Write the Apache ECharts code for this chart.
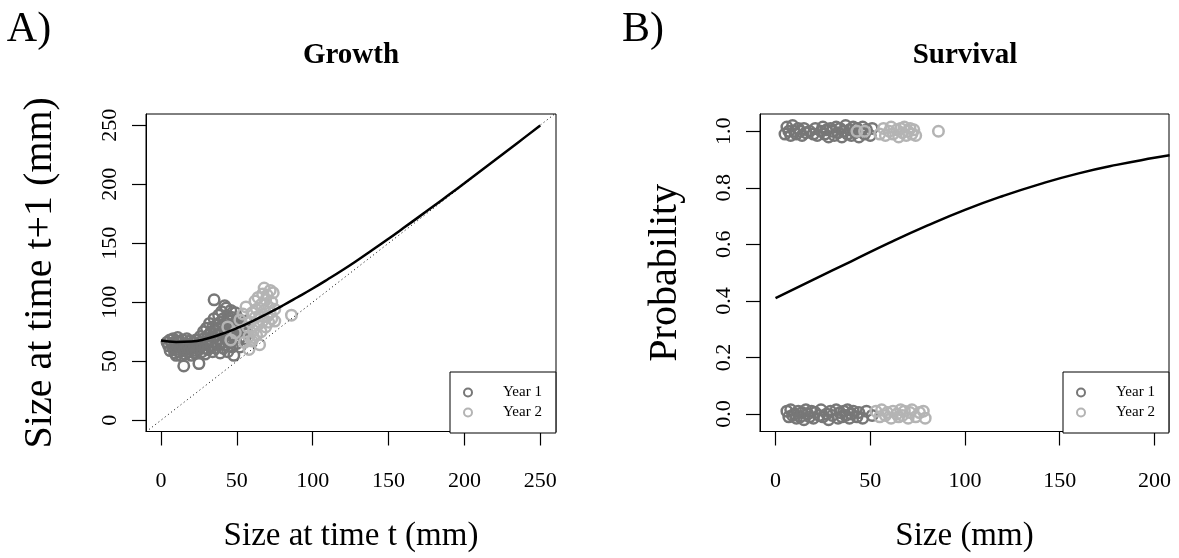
<!DOCTYPE html>
<html>
<head>
<meta charset="utf-8">
<script src="https://cdn.jsdelivr.net/npm/echarts@6/dist/echarts.min.js"></script>
<style>
  html, body { margin: 0; padding: 0; background: #fff; }
  #chart { width: 1179px; height: 558px; }
</style>
</head>
<body>
<div id="chart"></div>
<script>
// tick labels shared by both panels
var growthTicks = [0, 50, 100, 150, 200, 250];
var survivalXTicks = [0, 50, 100, 150, 200];
var survivalYTicks = [0, 0.2, 0.4, 0.6, 0.8, 1.0];
var yearNames = ['Year 1', 'Year 2'];

// growth: [size at t, size at t+1]
var growthYear1 = [
    [4,66],[5,63],[6,68],[6,59],[7,65],[8,61],[8,69],[9,57],[9,64],[10,67],[10,60],[10,55],
    [11,63],[11,70],[12,58],[12,66],[13,61],[13,55],[14,68],[14,63],[15,46],[15,59],[16,65],
    [16,56],[17,62],[17,69],[18,58],[18,64],[19,60],[19,67],[20,55],[20,63],[21,66],[21,59],
    [22,62],[22,57],[23,68],[23,57],[24,64],[25,48],[25,60],[26,66],[26,71],[27,58],[27,63],
    [28,69],[28,75],[29,61],[29,56],[30,66],[30,78],[31,72],[31,60],[32,82],[32,68],[33,63],
    [33,75],[34,79],[34,58],[35,102],[35,86],[35,70],[36,66],[36,76],[36,61],[37,81],[37,72],
    [38,89],[38,64],[38,77],[39,69],[39,83],[39,57],[40,74],[40,92],[40,66],[41,79],[41,61],
    [41,86],[42,71],[42,97],[42,76],[43,64],[43,82],[43,95],[44,69],[44,88],[44,58],[45,75],
    [45,84],[46,67],[46,93],[46,79],[47,72],[47,62],[47,87],[48,77],[48,55],[48,82],[49,70],
    [49,91],[50,65],[50,80],[51,75],[51,86],[52,70],[52,62],[53,81],[54,76],[55,69],[56,84],
    [57,73]
];
var growthYear2 = [
    [44,79],[46,68],[49,74],[52,85],[54,90],[55,66],[56,96],[57,79],[58,60],[58,71],[59,83],
    [60,91],[60,67],[61,76],[61,70],[62,101],[62,87],[63,72],[63,94],[64,104],[64,81],[65,64],
    [65,88],[66,98],[66,75],[67,107],[67,84],[68,112],[68,93],[69,79],[69,102],[70,88],[70,106],
    [71,96],[71,83],[72,110],[72,91],[73,86],[73,100],[74,108],[75,94],[75,84],[86,89]
];
// fitted growth curve, every 10 mm
var growthFit = [
    [0,67.5],[10,66.3],[20,66.6],[30,69],[40,73],[50,78],[60,83.8],[70,90.2],[80,97],
    [90,104.2],[100,111.6],[110,119.4],[120,127.5],[130,136],[140,144.8],[150,153.8],
    [160,163],[170,172.3],[180,181.7],[190,191.2],[200,200.8],[210,210.5],[220,220.2],
    [230,230],[240,239.9],[250,249.8]
];
var identityLine = [[-10,-10],[261,261]];

// survival: [size, survived (jittered)]
var survivalYear1 = [
    [5,0.99],[6,1.015],[7,1.0],[8,0.985],[9,1.02],[10,1.0],[11,0.99],[12,1.01],[13,1.0],
    [14,0.985],[15,1.01],[16,0.995],[18,1.0],[20,0.99],[21,1.01],[22,0.985],[24,1.0],[25,1.015],
    [26,0.99],[27,1.005],[28,0.98],[29,1.01],[30,1.0],[31,0.985],[32,1.015],[33,0.995],[34,1.01],
    [35,0.98],[36,1.0],[37,1.02],[38,0.99],[39,1.005],[40,0.985],[41,1.015],[42,0.995],[43,1.01],
    [44,0.98],[45,1.0],[46,1.015],[47,0.99],[48,1.005],[50,0.985],[51,1.01],
    [6,0.01],[7,-0.01],[8,0.015],[9,-0.005],[10,0.0],[11,-0.015],[12,0.01],[13,-0.01],[14,0.005],
    [15,-0.02],[16,0.015],[17,0.0],[18,-0.01],[19,0.01],[20,-0.015],[21,0.005],[23,-0.005],
    [24,0.015],[25,-0.01],[27,0.0],[28,-0.02],[29,0.01],[30,-0.005],[32,0.015],[33,-0.015],
    [34,0.005],[35,-0.01],[36,0.01],[37,-0.005],[38,0.015],[39,-0.015],[40,0.0],[41,0.01],
    [43,-0.01],[44,0.005],[46,-0.015],[48,0.01],[51,-0.005]
];
var survivalYear2 = [
    [43,1.0],[47,1.0],[55,0.99],[57,1.01],[58,0.985],[60,1.0],[61,1.015],[62,0.99],[64,1.005],
    [65,0.98],[66,1.01],[67,0.995],[68,1.015],[69,0.985],[70,1.0],[71,1.01],[72,0.99],[73,1.005],
    [74,0.985],[86,1.0],
    [53,0.01],[55,-0.01],[56,0.015],[58,-0.005],[59,0.005],[61,-0.015],[62,0.01],[64,0.0],
    [65,-0.01],[66,0.015],[67,-0.005],[68,0.01],[70,-0.015],[71,0.005],[72,0.015],[74,-0.01],
    [76,0.005],[78,0.01],[79,-0.015]
];
// fitted survival probability
var survivalFit = [
    [0,0.41],[20,0.475],[40,0.54],[60,0.605],[80,0.666],[100,0.722],[120,0.771],[140,0.814],
    [160,0.851],[180,0.881],[200,0.906],[208,0.915]
];

var FONT = 'Liberation Serif';
var DARK = '#777777';
var LIGHT = '#b4b4b4';

function valueAxis(grid, min, max, ticks, name, gap, isY, nameSize, fmt) {
    return {
        type: 'value',
        gridIndex: grid,
        min: min,
        max: max,
        name: name,
        nameLocation: 'middle',
        nameGap: gap,
        nameRotate: isY ? 90 : 0,
        nameTextStyle: { fontFamily: FONT, fontSize: nameSize, color: '#000', align: 'center', verticalAlign: 'middle' },
        axisLine: { show: true, onZero: false, lineStyle: { color: '#000', width: 1 } },
        splitLine: { show: false },
        axisTick: {
            show: true, inside: false, length: 14, customValues: ticks,
            lineStyle: { color: '#000', width: 1.2 }
        },
        axisLabel: {
            customValues: ticks,
            rotate: isY ? 90 : 0,
            margin: isY ? 25 : 39,
            fontFamily: FONT, fontSize: 22, color: '#000',
            formatter: fmt
        }
    };
}

function scatter(name, xi, data, color) {
    return {
        name: name, type: 'scatter', xAxisIndex: xi, yAxisIndex: xi,
        data: data, symbol: 'circle', symbolSize: 10.5,
        itemStyle: { color: 'rgba(0,0,0,0)', borderColor: color, borderWidth: 2.5, opacity: 1 },
        emphasis: { disabled: true }
    };
}

function legendBox(left) {
    return {
        orient: 'vertical', left: left, top: 372,
        padding: [13, 14, 13, 13],
        itemGap: 5, itemWidth: 20, itemHeight: 8,
        borderColor: '#000', borderWidth: 1, backgroundColor: '#fff',
        textStyle: { fontFamily: FONT, fontSize: 15, color: '#000', padding: [0, 0, 0, 20] },
        data: [
            { name: yearNames[0], icon: 'circle', itemStyle: { color: '#fff', borderColor: DARK, borderWidth: 2 } },
            { name: yearNames[1], icon: 'circle', itemStyle: { color: '#fff', borderColor: LIGHT, borderWidth: 2 } }
        ],
        selectedMode: false
    };
}

function graphicText(text, x, y, size, weight) {
    return {
        type: 'text', x: x, y: y,
        style: { text: text, fontFamily: FONT, fontSize: size, fontWeight: weight, fill: '#000', textAlign: 'center', textVerticalAlign: 'middle' }
    };
}

var option = {
    animation: false,
    backgroundColor: '#fff',
    graphic: [
        graphicText('A)', 29, 30, 42, 'normal'),
        graphicText('B)', 643, 30, 42, 'normal'),
        graphicText('Growth', 351, 56, 29, 'bold'),
        graphicText('Survival', 965, 56, 29, 'bold')
    ],
    grid: [
        { left: 146, top: 114, width: 410, height: 319, show: true, borderColor: '#000', borderWidth: 1, backgroundColor: 'transparent' },
        { left: 760, top: 114, width: 409, height: 319, show: true, borderColor: '#000', borderWidth: 1, backgroundColor: 'transparent' }
    ],
    legend: [legendBox(450), legendBox(1063)],
    xAxis: [
        valueAxis(0, -9.9, 260.4, growthTicks, 'Size at time t (mm)', 105, false, 33),
        valueAxis(1, -8.2, 207.7, survivalXTicks, 'Size (mm)', 105, false, 33)
    ],
    yAxis: [
        valueAxis(0, -9.6, 259.5, growthTicks, 'Size at time t+1 (mm)', 106, true, 40),
        valueAxis(1, -0.062, 1.061, survivalYTicks, 'Probability', 95, true, 40, function (v) { return v.toFixed(1); })
    ],
    series: [
        scatter(yearNames[0], 0, growthYear1, DARK),
        scatter(yearNames[1], 0, growthYear2, LIGHT),
        {
            type: 'line', xAxisIndex: 0, yAxisIndex: 0, data: identityLine, showSymbol: false,
            lineStyle: { color: '#000', width: 1, type: [1, 3] }, silent: true
        },
        {
            type: 'line', xAxisIndex: 0, yAxisIndex: 0, data: growthFit, showSymbol: false, smooth: true,
            lineStyle: { color: '#000', width: 2.5 }, silent: true
        },
        scatter(yearNames[0], 1, survivalYear1, DARK),
        scatter(yearNames[1], 1, survivalYear2, LIGHT),
        {
            type: 'line', xAxisIndex: 1, yAxisIndex: 1, data: survivalFit, showSymbol: false, smooth: true,
            lineStyle: { color: '#000', width: 2.5 }, silent: true
        }
    ]
};

var chart = echarts.init(document.getElementById('chart'));
chart.setOption(option);
</script>
</body>
</html>
